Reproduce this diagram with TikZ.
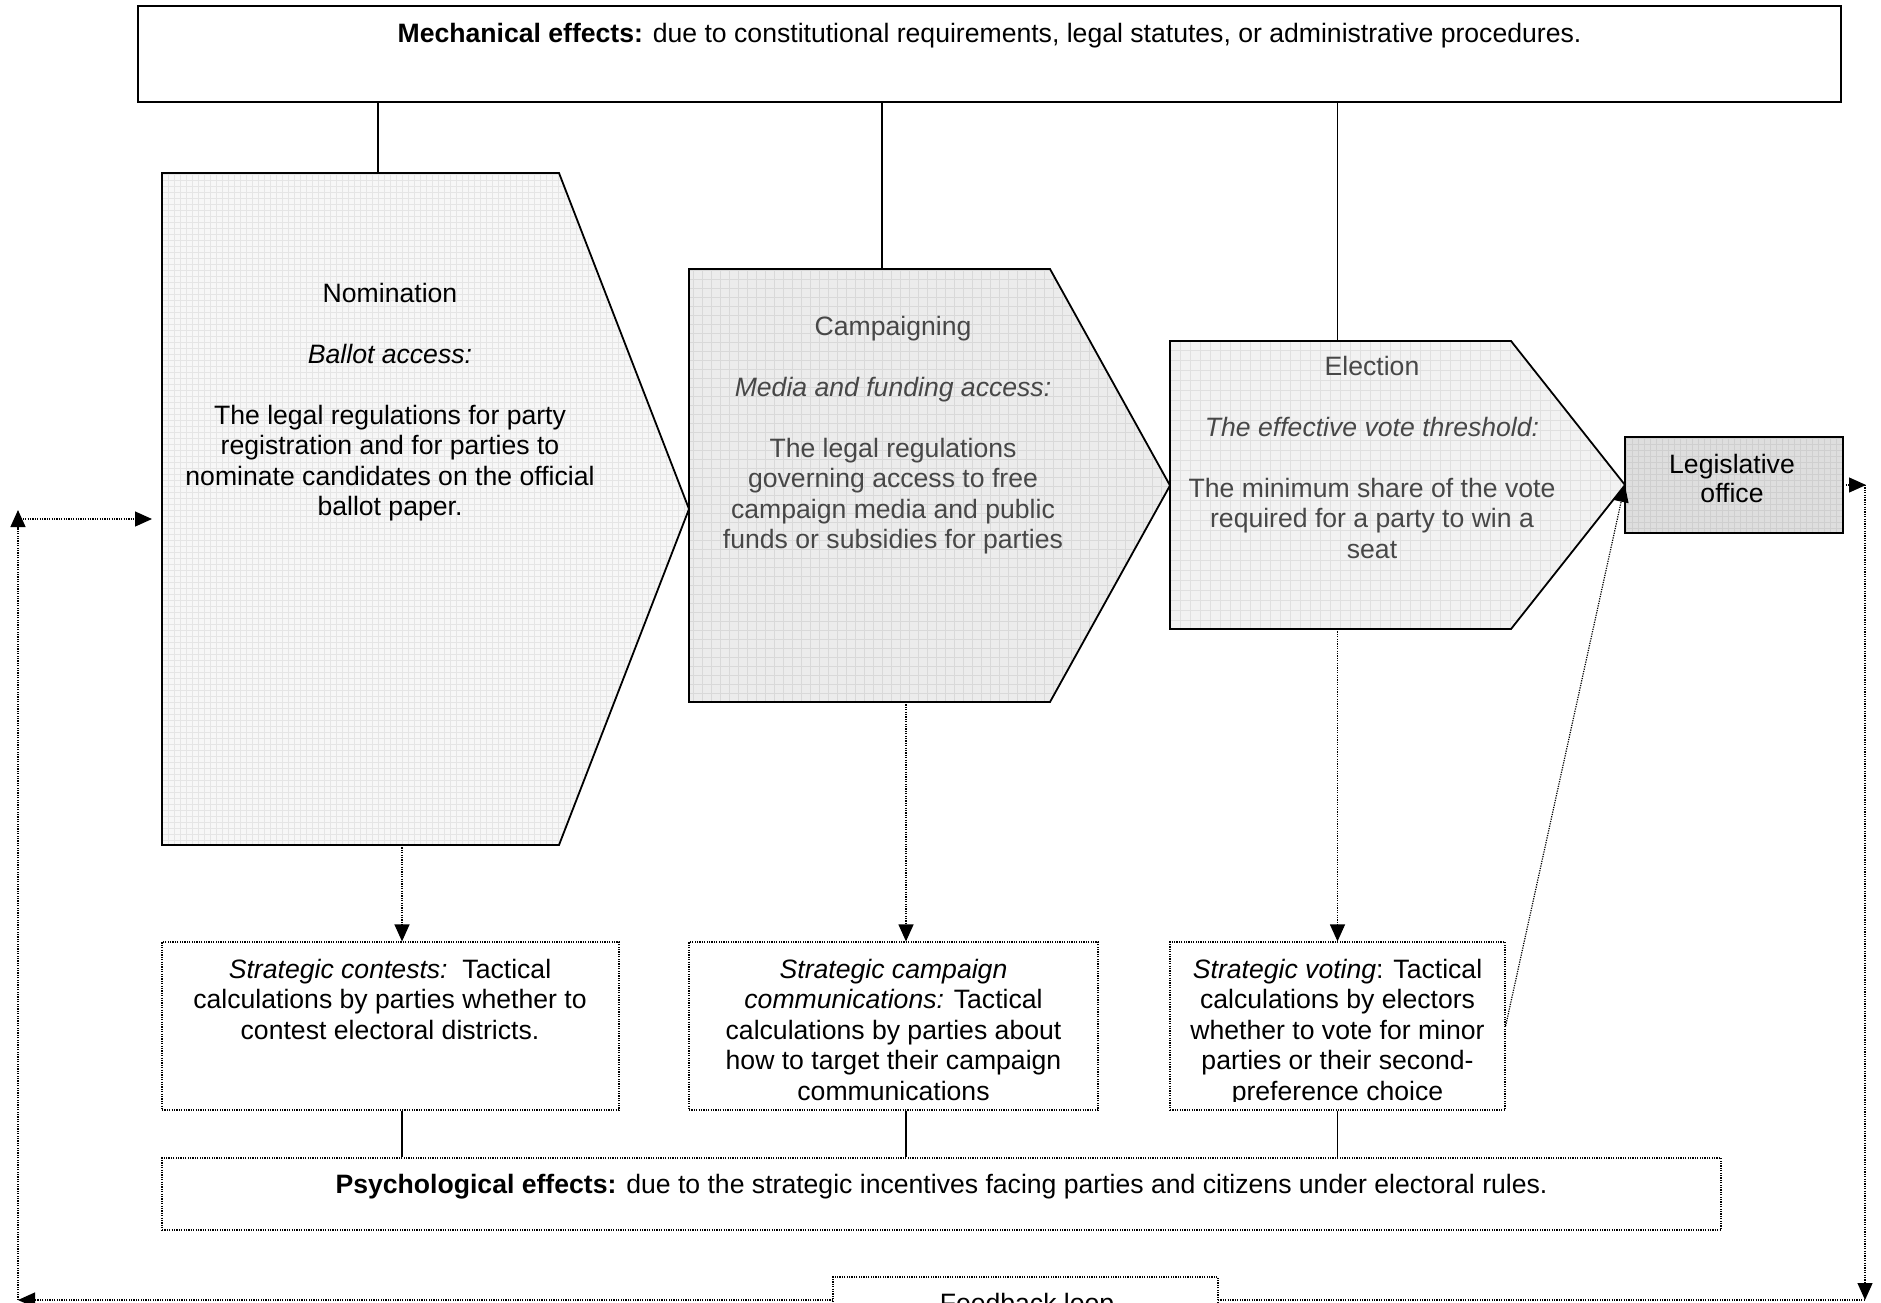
\documentclass[tikz,border=0pt]{standalone}
\usepackage{fontspec}
\setmainfont{Liberation Sans}
\usetikzlibrary{arrows.meta}
\begin{document}
\begin{tikzpicture}[x=1pt,y=-1pt,
  txt/.style={font=\fontsize{26.6}{30.5}\selectfont, align=center, inner sep=0pt, anchor=north},
  graytxt/.style={txt, text=black!72},
  solidbox/.style={draw, line width=1.8pt},
  dotbox/.style={draw, line width=1.2pt, dash pattern=on 1.2pt off 1.2pt},
  dotline/.style={line width=1.2pt, dash pattern=on 1.2pt off 1.2pt},
  conn/.style={line width=1.3pt},
  tipped/.style={-{Triangle[length=17pt,width=15pt]}},
  rectnode/.style={rectangle, inner sep=0pt, minimum width=#1},
]
\useasboundingbox (0,0) rectangle (1881,1302);
\clip (0,0) rectangle (1881,1302);
\fill[white] (0,0) rectangle (1881,1302);
\newcommand{\fl}{\rule{0pt}{21pt}}

% ---------- Mechanical effects box
\node[solidbox, rectnode=1703pt, minimum height=96pt] (mech) at (989.5,54) {};
\node[txt] (mechtxt) at (989.5,21) {\fl\textbf{Mechanical effects:} due to constitutional requirements, legal statutes, or administrative procedures.};

% ---------- Nomination
\begin{scope}
  \clip (162,173) -- (559,173) -- (689,509) -- (559,845) -- (162,845) -- cycle;
  \fill[gray!6] (150,160) rectangle (700,850);
  \draw[gray!20, line width=0.8pt, step=6pt] (150,160) grid (700,850);
\end{scope}
\draw[solidbox, line join=miter] (162,173) -- (559,173) -- (689,509) -- (559,845) -- (162,845) -- cycle;
\coordinate (nomN) at (378,173);
\coordinate (nomS) at (402,845);
\coordinate (nomW) at (162,519);
\node[txt] (nomtxt) at (390,281) {\fl Nomination\\[30.5pt]\textit{Ballot access:}\\[30.5pt]The legal regulations for party\\registration and for parties to\\nominate candidates on the official\\ballot paper.};

% ---------- Campaigning
\begin{scope}
  \clip (689,269) -- (1050,269) -- (1170,485.5) -- (1050,702) -- (689,702) -- cycle;
  \fill[gray!15] (680,260) rectangle (1180,710);
  \draw[gray!30, line width=0.8pt, step=9pt] (680,260) grid (1180,710);
\end{scope}
\draw[solidbox, line join=miter] (689,269) -- (1050,269) -- (1170,485.5) -- (1050,702) -- (689,702) -- cycle;
\coordinate (camN) at (882,269);
\coordinate (camS) at (906,702);
\node[graytxt] (camtxt) at (893,314) {\fl Campaigning\\[30.5pt]\textit{Media and funding access:}\\[30.5pt]The legal regulations\\governing access to free\\campaign media and public\\funds or subsidies for parties};

% ---------- Election
\begin{scope}
  \clip (1170,341) -- (1511,341) -- (1625,485) -- (1511,629) -- (1170,629) -- cycle;
  \fill[gray!10] (1160,330) rectangle (1630,640);
  \draw[gray!24, line width=0.8pt, step=10pt] (1160,330) grid (1630,640);
\end{scope}
\draw[solidbox, line join=miter] (1170,341) -- (1511,341) -- (1625,485) -- (1511,629) -- (1170,629) -- cycle;
\coordinate (eleN) at (1337.5,341);
\coordinate (eleS) at (1337.5,629);
\node[graytxt] (eletxt) at (1372,354) {\fl Election\\[30.5pt]\textit{The effective vote threshold:}\\[30.5pt]The minimum share of the vote\\required for a party to win a\\seat};

% ---------- Legislative office
\node[rectnode=218pt, minimum height=96pt] (leg) at (1734,485) {};
\begin{scope}
  \clip (leg.north west) rectangle (leg.south east);
  \fill[gray!26] (leg.north west) rectangle (leg.south east);
  \draw[gray!38, line width=0.8pt, step=6pt] (1620,430) grid (1850,540);
\end{scope}
\draw[solidbox] (leg.north west) rectangle (leg.south east);
\node[txt] (legtxt) at (1732,452) {\fl Legislative\\[-1.5pt]office};

% ---------- connectors from Mechanical
\draw[conn] (mech.south -| nomN) -- (nomN);
\draw[conn] (mech.south -| camN) -- (camN);
\draw[conn] (mech.south -| eleN) -- (eleN);

% ---------- Strategic boxes
\node[dotbox, rectnode=457pt, minimum height=168pt] (s1) at (390.5,1026) {};
\node[dotbox, rectnode=409pt, minimum height=168pt] (s2) at (893.5,1026) {};
\node[dotbox, rectnode=335pt, minimum height=168pt] (s3) at (1337.5,1026) {};
\node[txt] (s1txt) at (390,957) {\fl\textit{Strategic contests:}\ \ Tactical\\calculations by parties whether to\\contest electoral districts.};
\node[txt] (s2txt) at (893.5,957) {\fl\textit{Strategic campaign}\\\textit{communications:} Tactical\\calculations by parties about\\how to target their campaign\\communications};
\begin{scope}
  \clip (1172,944) rectangle (1503,1101);
  \node[txt] (s3txt) at (1337.5,957) {\fl\textit{Strategic voting}: Tactical\\calculations by electors\\whether to vote for minor\\parties or their second-\\preference choice};
\end{scope}

% ---------- dotted arrows down
\draw[dotline, tipped] (nomS) -- (nomS |- s1.north);
\draw[dotline, tipped] (camS) -- (camS |- s2.north);
\draw[dotline, tipped] (eleS) -- (eleS |- s3.north);

% ---------- Psychological effects box
\node[dotbox, rectnode=1559pt, minimum height=72pt] (psych) at (941.5,1194) {};
\node[txt] (psychtxt) at (941.5,1172) {\fl\textbf{Psychological effects:} due to the strategic incentives facing parties and citizens under electoral rules.};
\draw[conn] (nomS |- s1.south) -- (nomS |- psych.north);
\draw[conn] (camS |- s2.south) -- (camS |- psych.north);
\draw[conn] (eleS |- s3.south) -- (eleS |- psych.north);

% ---------- strategic voting to legislative office
\draw[dotline, tipped] (s3.east) -- (leg.west);

% ---------- Feedback loop
\node[dotbox, rectnode=385pt, minimum height=80pt] (fb) at (1025.5,1317) {};
\node[txt] (fbtxt) at (1027,1291) {\fl Feedback loop};
\coordinate (fbl) at (833,1300);
\coordinate (fbr) at (1218,1300);
\coordinate (blc) at (18,1300);
\coordinate (lup) at (18,510);
\coordinate (lh) at (18,519);
\coordinate (rtop) at (1866,485);
\coordinate (rbot) at (1865,1300);

\draw[dotline, tipped] (fbl) -- (blc);
\draw[dotline, tipped] (blc) -- (lup);
\draw[dotline, tipped] (lh) -- (nomW -| 152,0);
\draw[dotline, tipped] (leg.east) -- (rtop);
\draw[dotline, tipped] (1865,485) -- (rbot);
\draw[dotline] (fbr) -- (rbot);
\end{tikzpicture}
\end{document}
